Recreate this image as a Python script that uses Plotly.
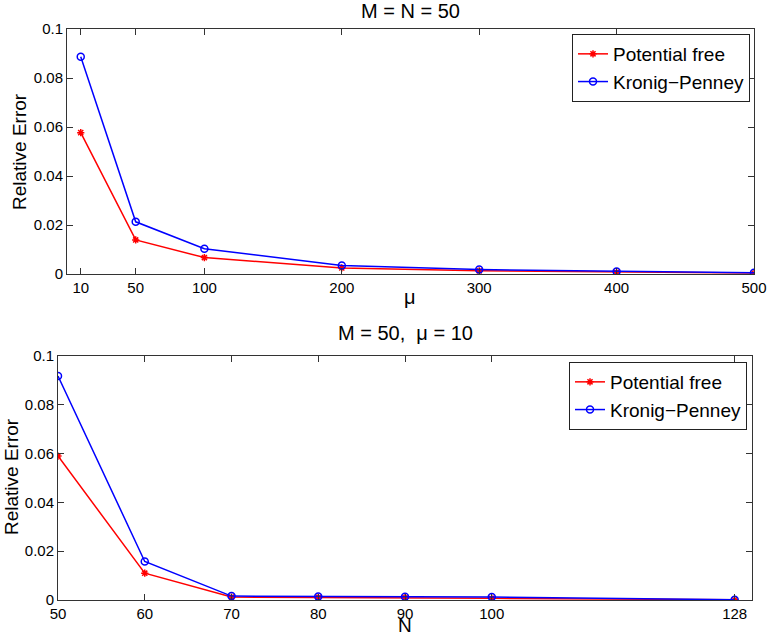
import plotly.graph_objects as go

# ---- data ----
mu_vals = [10, 50, 100, 200, 300, 400, 500]
top_free = [0.0577, 0.0139, 0.0067, 0.0025, 0.0013, 0.0007, 0.0004]
top_kp = [0.0887, 0.0213, 0.0103, 0.0035, 0.0018, 0.0010, 0.0005]

n_vals = [50, 60, 70, 80, 90, 100, 128]
bot_free = [0.0590, 0.0110, 0.0012, 0.0011, 0.0010, 0.0007, 0.0001]
bot_kp = [0.0918, 0.0158, 0.0016, 0.0014, 0.0013, 0.0012, 0.0001]

y_ticks = [0, 0.02, 0.04, 0.06, 0.08, 0.1]
y_ticklabels = ["0", "0.02", "0.04", "0.06", "0.08", "0.1"]

W, H = 768, 639
FONT = "Liberation Sans, Arial, Helvetica, sans-serif"
RED = "rgb(255,0,0)"
BLUE = "rgb(0,0,255)"

fig = go.Figure()

def add_pair(x, yf, yk, xa, ya, leg):
    fig.add_trace(go.Scatter(x=x, y=yf, name="Potential free", mode="lines+markers",
                             line=dict(color=RED, width=1.5),
                             marker=dict(symbol="asterisk-open", size=6,
                                         line=dict(color=RED, width=1.5)),
                             xaxis=xa, yaxis=ya, legend=leg))
    fig.add_trace(go.Scatter(x=x, y=yk, name="Kronig\u2212Penney", mode="lines+markers",
                             line=dict(color=BLUE, width=1.5),
                             marker=dict(symbol="circle-open", size=7,
                                         line=dict(color=BLUE, width=1.5)),
                             xaxis=xa, yaxis=ya, legend=leg))

add_pair(mu_vals, top_free, top_kp, "x", "y", "legend")
add_pair(n_vals, bot_free, bot_kp, "x2", "y2", "legend2")

def px(v):
    return v / W

def py(v):
    return 1 - v / H

axis_common = dict(showline=True, linecolor="#333", linewidth=1, mirror="ticks",
                   ticks="inside", ticklen=6, tickcolor="#333", showgrid=False,
                   zeroline=False, tickfont=dict(size=15, color="black", family=FONT))

fig.update_layout(
    width=W, height=H,
    margin=dict(l=0, r=0, t=0, b=0, autoexpand=False),
    paper_bgcolor="white", plot_bgcolor="white",
    font=dict(family=FONT, color="black"),
    xaxis=dict(domain=[px(67), px(754)], range=[0, 500], tickvals=mu_vals,
               anchor="y", automargin=False, **axis_common),
    yaxis=dict(domain=[py(274), py(29)], range=[0, 0.1], tickvals=y_ticks,
               ticktext=y_ticklabels, anchor="x", automargin=False, **axis_common),
    xaxis2=dict(domain=[px(58), px(752)], range=[50, 130], tickvals=n_vals,
                anchor="y2", automargin=False, **axis_common),
    yaxis2=dict(domain=[py(600), py(356)], range=[0, 0.1], tickvals=y_ticks,
                ticktext=y_ticklabels, anchor="x2", automargin=False, **axis_common),
    legend=dict(x=px(750), y=py(34), xanchor="right", yanchor="top",
                bordercolor="#222", borderwidth=1, bgcolor="white",
                font=dict(size=19, family=FONT), tracegroupgap=0,
                itemwidth=30),
    legend2=dict(x=px(747), y=py(362), xanchor="right", yanchor="top",
                 bordercolor="#222", borderwidth=1, bgcolor="white",
                 font=dict(size=19, family=FONT), tracegroupgap=0,
                 itemwidth=30),
    showlegend=True,
)

ann = [
    dict(text="M = N = 50", x=px(410), y=py(11), size=20, ya="middle"),
    dict(text="M = 50,  \u03bc = 10", x=px(405), y=py(333), size=20, ya="middle"),
    dict(text="\u03bc", x=px(410), y=py(297), size=20, ya="middle"),
    dict(text="N", x=px(405), y=py(638), size=19, ya="bottom"),
]
for a in ann:
    fig.add_annotation(text=a["text"], x=a["x"], y=a["y"], xref="paper", yref="paper",
                       showarrow=False, xanchor="center", yanchor=a["ya"],
                       font=dict(size=a["size"], family=FONT, color="black"))

for txt, x, y in [("Relative Error", 19, 152), ("Relative Error", 11, 477)]:
    fig.add_annotation(text=txt, x=px(x), y=py(y), xref="paper", yref="paper",
                       showarrow=False, textangle=-90, xanchor="center", yanchor="middle",
                       font=dict(size=19, family=FONT, color="black"))

fig.write_html("out.html",
               config={"displayModeBar": False},
               post_script="document.body.style.margin='0';document.body.style.overflow='hidden';")
